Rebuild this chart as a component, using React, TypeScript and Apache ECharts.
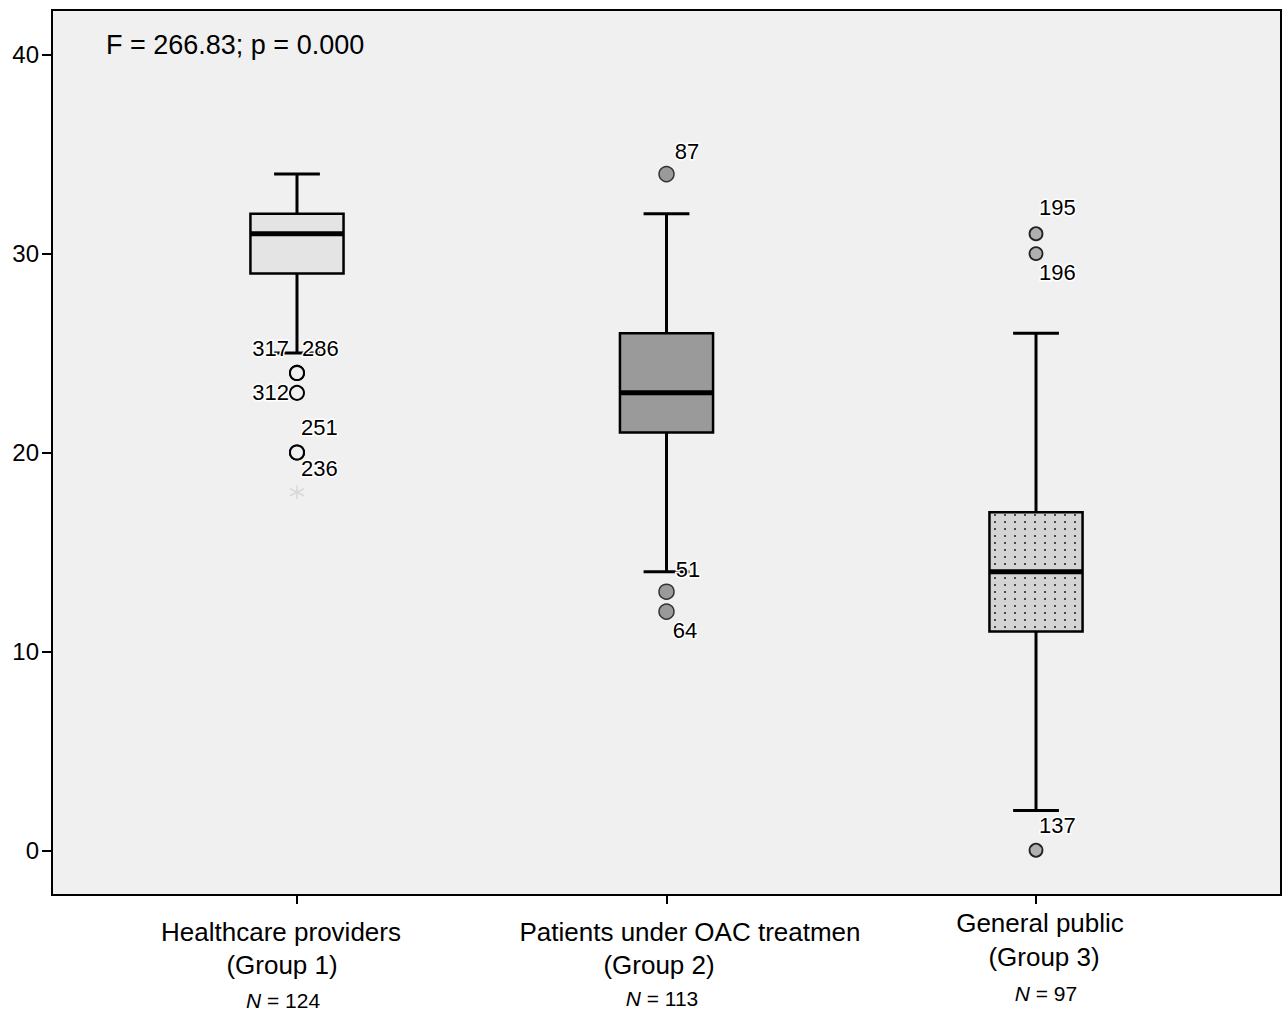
import React, { useEffect, useRef } from 'react';
import * as echarts from 'echarts';

const groups = ['Healthcare providers', 'Patients under OAC treatmen', 'General public'];
const groupTags = ['(Group 1)', '(Group 2)', '(Group 3)'];
const groupN = [124, 113, 97];
const groupX = [1, 2, 3];
// [low whisker, Q1, median, Q3, high whisker]
const boxStats = [
  [25, 29, 31, 32, 34],
  [14, 21, 23, 26, 32],
  [2, 11, 14, 17, 26],
];
const yTicks = [0, 10, 20, 30, 40];
// outliers: [group position, value, case id]
const outliers1: any[] = [[1, 24, '317'], [1, 24, '286'], [1, 23, '312'], [1, 20, '251'], [1, 20, '236']];
const extremes1: any[] = [[1, 18]];
const outliers2: any[] = [[2, 34, '87'], [2, 13, '51'], [2, 12, '64']];
const outliers3: any[] = [[3, 31, '195'], [3, 30, '196'], [3, 0, '137']];
const statText = 'F = 266.83; p = 0.000';

// label placement (pixels from point centre)
const labelPlace: Record<string, { align: string; dx: number; dy: number }> = {
  '317': { align: 'right', dx: -7, dy: -23 },
  '286': { align: 'left', dx: 6, dy: -23 },
  '312': { align: 'right', dx: -7, dy: 1 },
  '251': { align: 'left', dx: 5, dy: -24 },
  '236': { align: 'left', dx: 5, dy: 17 },
  '87': { align: 'left', dx: 9, dy: -22 },
  '51': { align: 'left', dx: 10, dy: -21 },
  '64': { align: 'left', dx: 7, dy: 20 },
  '195': { align: 'left', dx: 4, dy: -25 },
  '196': { align: 'left', dx: 4, dy: 20 },
  '137': { align: 'left', dx: 4, dy: -24 },
};

const FONT = '"Liberation Sans", Arial, sans-serif';

function makeDotPattern() {
  const c = document.createElement('canvas');
  c.width = 10;
  c.height = 7;
  const ctx = c.getContext('2d')!;
  ctx.fillStyle = '#d4d4d4';
  ctx.fillRect(0, 0, 10, 7);
  ctx.fillStyle = '#4a4a4a';
  ctx.fillRect(4, 3, 2, 2);
  return { image: c, repeat: 'repeat', imageWidth: 10, imageHeight: 7 };
}

function outlierData(list: any[], size: number) {
  return list.map((d) => {
    const p = labelPlace[d[2]];
    const h = size / 2;
    return {
      value: [d[0], d[1]],
      name: d[2],
      label: {
        show: true,
        formatter: d[2],
        position: [h + p.dx, h + p.dy],
        align: p.align,
        verticalAlign: 'middle',
        fontSize: 22,
        fontFamily: FONT,
        color: '#000',
        textBorderColor: '#ffffff',
        textBorderWidth: 3,
      },
    };
  });
}

export default function App() {
  const ref = useRef<HTMLDivElement>(null);
  useEffect(() => {
    document.body.style.margin = '0';
    const chart = echarts.init(ref.current!, null, { renderer: 'svg' });
    const pattern = makeDotPattern();
    const fills = ['#e4e4e4', '#9a9a9a', pattern];
    const boxData = boxStats.map((s, i) => [groupX[i], ...s, i]);

    const graphics: any[] = [
      {
        type: 'text',
        left: 106,
        top: 31,
        style: { text: statText, fontSize: 27, fontFamily: FONT, fill: '#000' },
      },
    ];
    const labelPos = [
      { c1: 281, c2: 282, c3: 283, y1: 932, y2: 965, y3: 1000 },
      { c1: 690, c2: 659, c3: 662, y1: 932, y2: 965, y3: 998 },
      { c1: 1040, c2: 1044, c3: 1046, y1: 923, y2: 957, y3: 993 },
    ];
    groups.forEach((g, i) => {
      const p = labelPos[i];
      graphics.push(
        { type: 'text', x: p.c1, y: p.y1, style: { text: g, fontSize: 26, fontFamily: FONT, fill: '#000', align: 'center', verticalAlign: 'middle' } },
        { type: 'text', x: p.c2, y: p.y2, style: { text: groupTags[i], fontSize: 26, fontFamily: FONT, fill: '#000', align: 'center', verticalAlign: 'middle' } },
        {
          type: 'text',
          x: p.c3,
          y: p.y3,
          style: {
            text: '{i|N} = ' + groupN[i],
            fontSize: 21,
            fontFamily: FONT,
            fill: '#000',
            align: 'center',
            verticalAlign: 'middle',
            rich: { i: { fontStyle: 'italic', fontSize: 21, fontFamily: FONT, fill: '#000' } },
          },
        }
      );
    });

    chart.setOption({
      animation: false,
      backgroundColor: '#ffffff',
      grid: {
        left: 52,
        right: 5,
        top: 10,
        bottom: 117,
        show: true,
        backgroundColor: '#f0f0f0',
        borderColor: '#000',
        borderWidth: 2,
      },
      xAxis: {
        type: 'value',
        min: 0.337,
        max: 3.663,
        splitLine: { show: false },
        axisLine: { show: true, onZero: false, lineStyle: { color: '#000', width: 2 } },
        axisTick: { show: true, customValues: groupX, length: 9, lineStyle: { color: '#000', width: 2 } },
        axisLabel: { show: false },
      },
      yAxis: {
        type: 'value',
        min: -2.25,
        max: 42.25,
        splitLine: { show: false },
        axisLine: { show: true, onZero: false, lineStyle: { color: '#000', width: 2 } },
        axisTick: { show: true, customValues: yTicks, length: 10, lineStyle: { color: '#000', width: 2 } },
        axisLabel: { show: true, customValues: yTicks, fontSize: 24, fontFamily: FONT, color: '#000', margin: 13 },
      },
      graphic: graphics,
      series: [
        {
          type: 'custom',
          encode: { x: 0, y: [1, 2, 3, 4, 5] },
          data: boxData,
          renderItem: (params: any, api: any) => {
            const x = api.value(0);
            const lo = api.coord([x, api.value(1)]);
            const q1 = api.coord([x, api.value(2)]);
            const md = api.coord([x, api.value(3)]);
            const q3 = api.coord([x, api.value(4)]);
            const hi = api.coord([x, api.value(5)]);
            const idx = api.value(6);
            const halfBox = (api.coord([x + 0.126, 0])[0] - api.coord([x, 0])[0]);
            const halfCap = (api.coord([x + 0.062, 0])[0] - api.coord([x, 0])[0]);
            const cx = lo[0];
            const lineStyle = { stroke: '#000', lineWidth: 3 };
            return {
              type: 'group',
              children: [
                { type: 'line', shape: { x1: cx, y1: q3[1], x2: cx, y2: hi[1] }, style: lineStyle },
                { type: 'line', shape: { x1: cx - halfCap, y1: hi[1], x2: cx + halfCap, y2: hi[1] }, style: lineStyle },
                { type: 'line', shape: { x1: cx, y1: q1[1], x2: cx, y2: lo[1] }, style: lineStyle },
                { type: 'line', shape: { x1: cx - halfCap, y1: lo[1], x2: cx + halfCap, y2: lo[1] }, style: lineStyle },
                {
                  type: 'rect',
                  shape: { x: cx - halfBox, y: q3[1], width: halfBox * 2, height: q1[1] - q3[1] },
                  style: { fill: fills[idx], stroke: '#000', lineWidth: 2.5 },
                },
                { type: 'line', shape: { x1: cx - halfBox, y1: md[1], x2: cx + halfBox, y2: md[1] }, style: { stroke: '#000', lineWidth: 5 } },
              ],
            };
          },
          z: 2,
        },
        {
          type: 'scatter',
          symbol: 'circle',
          symbolSize: 14,
          data: outlierData(outliers1, 14),
          itemStyle: { color: '#f0f0f0', borderColor: '#000', borderWidth: 2, opacity: 1 },
          z: 3,
        },
        {
          type: 'scatter',
          symbol: 'path://M0,-10L0,10M-8.66,-5L8.66,5M-8.66,5L8.66,-5',
          symbolSize: 14,
          data: extremes1,
          itemStyle: { color: 'none', borderColor: '#d8d8d8', borderWidth: 1.5, opacity: 1 },
          z: 3,
        },
        {
          type: 'scatter',
          symbol: 'circle',
          symbolSize: 15,
          data: outlierData(outliers2, 15),
          itemStyle: { color: '#9a9a9a', borderColor: '#333', borderWidth: 1.5, opacity: 1 },
          z: 3,
        },
        {
          type: 'scatter',
          symbol: 'circle',
          symbolSize: 13,
          data: outlierData(outliers3, 13),
          itemStyle: { color: '#b0b0b0', borderColor: '#222', borderWidth: 1.8, opacity: 1 },
          z: 3,
        },
      ],
    });
    return () => chart.dispose();
  }, []);
  return <div ref={ref} style={{ width: 1286, height: 1012 }} />;
}
